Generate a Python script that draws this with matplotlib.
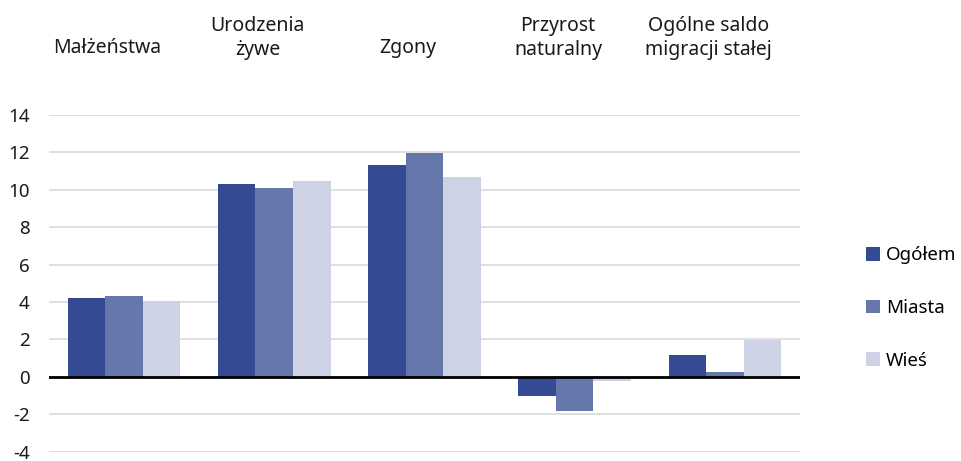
import matplotlib
matplotlib.use("Agg")
import matplotlib.pyplot as plt
from matplotlib.patches import Patch
import numpy as np

plt.rcParams['font.family'] = ['Noto Sans', 'DejaVu Sans']
plt.rcParams['axes.unicode_minus'] = False

categories = ["Małżeństwa", "Urodzenia\nżywe", "Zgony", "Przyrost\nnaturalny", "Ogólne saldo\nmigracji stałej"]
series_names = ["Ogółem", "Miasta", "Wieś"]
ogolem = [4.2, 10.32, 11.32, -1.0, 1.15]
miasta = [4.35, 10.12, 11.96, -1.84, 0.26]
wies = [4.08, 10.46, 10.69, -0.22, 1.98]
yticks = [-4, -2, 0, 2, 4, 6, 8, 10, 12, 14]

colors = ["#344a93", "#6677ab", "#cdd2e4"]
txt = "#1a1a1a"

fig = plt.figure(figsize=(9.62, 4.61), dpi=100)
ax = fig.add_axes([0.0509, 0.0202, 0.7807, 0.7303])

x = np.arange(len(categories))
w = 0.25
for i, (vals, c) in enumerate(zip([ogolem, miasta, wies], colors)):
    ax.bar(x + (i - 1) * w, vals, width=w, color=c, zorder=2, linewidth=0)

ax.set_xlim(-0.5, len(categories) - 0.5)
ax.set_ylim(-4, 14)
ax.set_yticks(yticks)
ax.set_yticklabels([str(t) for t in yticks], fontsize=13.5, color=txt)
ax.tick_params(axis='y', length=0, pad=14)
ax.set_xticks([])
for s in ax.spines.values():
    s.set_visible(False)
ax.grid(axis='y', color="#d9d9d9", linewidth=1.2, zorder=0)
ax.axhline(0, color="black", linewidth=2, zorder=3)

trans = matplotlib.transforms.blended_transform_factory(ax.transData, ax.transAxes)
for xi, lab in zip(x, categories):
    ypx = 38 if "\n" in lab else 48
    yfrac = 1 + (115 - ypx) / 337
    ax.text(xi - 0.11, yfrac, lab, transform=trans, ha="center", va="center",
            fontsize=14, color=txt, linespacing=1.3)

handles = [Patch(facecolor=c, edgecolor='none') for c in colors]
fig.legend(handles, series_names, loc="center left", bbox_to_anchor=(0.900, 0.332),
           frameon=False, fontsize=13.5, labelspacing=1.85, handlelength=0.75,
           handleheight=0.75, handletextpad=0.32, borderpad=0, borderaxespad=0)

fig.savefig("out.png", dpi=100)
